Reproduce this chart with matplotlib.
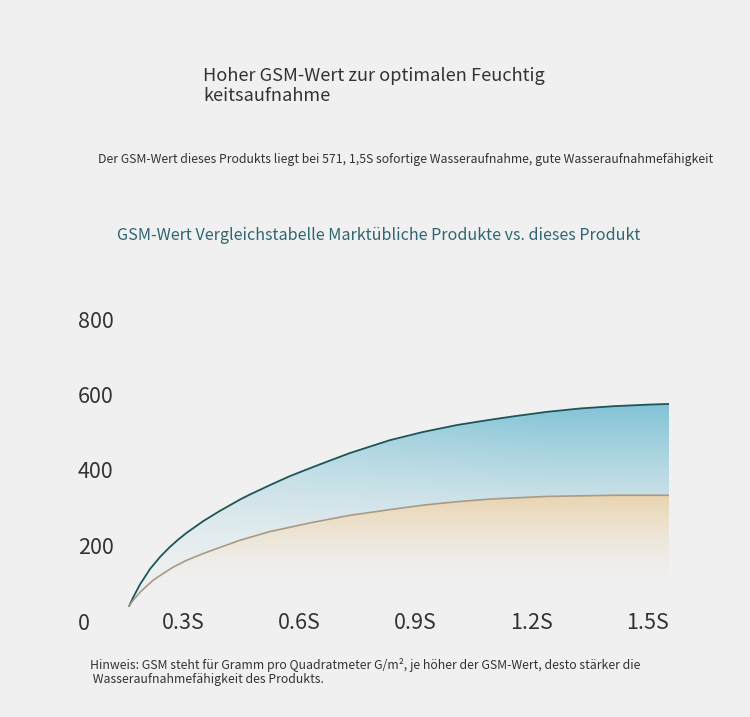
import numpy as np
import matplotlib
matplotlib.use("Agg")
import matplotlib.pyplot as plt
from matplotlib.colors import to_rgb

# values
x_top = [0.104, 0.115, 0.132, 0.158, 0.184, 0.209, 0.231, 0.253, 0.296, 0.339, 0.391,
         0.416, 0.468, 0.52, 0.572, 0.623, 0.675, 0.778, 0.865, 0.951, 1.037, 1.097,
         1.184, 1.27, 1.356, 1.442, 1.5]
y_top = [40, 64, 97, 138, 170, 196, 216, 234, 265, 292, 322,
         335, 360, 384, 405, 425, 445, 479, 501, 519, 533, 542,
         554, 563, 569, 573, 575]
x_low = [0.104, 0.115, 0.132, 0.14, 0.166, 0.192, 0.218, 0.253, 0.296, 0.339, 0.391,
         0.468, 0.572, 0.675, 0.778, 0.865, 0.951, 1.037, 1.184, 1.356, 1.5]
y_low = [40, 56, 76, 84, 108, 126, 143, 161, 179, 195, 214,
         237, 260, 280, 295, 307, 316, 323, 330, 333, 333]
x_ticks = [0.3, 0.6, 0.9, 1.2, 1.5]
x_labels = ["0.3S", "0.6S", "0.9S", "1.2S", "1.5S"]
y_ticks = [0, 200, 400, 600, 800]

BG = "#f0f0f0"
plt.rcParams["font.family"] = ["Noto Sans CJK SC", "DejaVu Sans"]

fig = plt.figure(figsize=(7.5, 7.17), dpi=100, facecolor=BG)
W, H = 750, 717

fig.text(203 / W, 1 - 86 / H, "Hoher GSM-Wert zur optimalen Feuchtig\nkeitsaufnahme",
         fontsize=13.1, color="#333333", va="center", ha="left", linespacing=1.13)
fig.text(98 / W, 1 - 159 / H,
         "Der GSM-Wert dieses Produkts liegt bei 571, 1,5S sofortige Wasseraufnahme, gute Wasseraufnahmefähigkeit",
         fontsize=8.83, color="#333333", va="center", ha="left")
fig.text(117 / W, 1 - 236 / H,
         "GSM-Wert Vergleichstabelle Marktübliche Produkte vs. dieses Produkt",
         fontsize=11.6, color="#2e6672", va="center", ha="left")
fig.text(90 / W, 1 - 672 / H,
         "Hinweis: GSM steht für Gramm pro Quadratmeter G/m², je höher der GSM-Wert, desto stärker die\n Wasseraufnahmefähigkeit des Produkts.",
         fontsize=8.85, color="#333333", va="center", ha="left", linespacing=1.18)

ax = fig.add_axes([89 / W, (H - 621) / H, 580 / W, 302 / H])
ax.set_facecolor(BG)
ax.set_xlim(0, 1.5)
ax.set_ylim(0, 800)
for s in ax.spines.values():
    s.set_visible(False)

xt = np.array(x_top)
yt = np.array(y_top)
xl = np.array(x_low)
yl = np.array(y_low)
# bottom curve on the top curve's x grid, for the band between the two
yl_on_top = np.interp(xt, xl, yl)

# gradient images clipped to the filled areas
ny, nx = 300, 200
gy = np.linspace(0, 800, ny)[:, None]
gx = np.linspace(0, 1.5, nx)[None, :]

blue = np.array(to_rgb("#82c3d6"))
pale = np.array(to_rgb("#ebeff0"))
t = np.clip((gy - 150) / (575 - 150), 0, 1) ** 1.3 * np.clip(0.6 + gx / 1.5 * 0.5, 0, 1)
img = pale[None, None, :] * (1 - t[..., None]) + blue[None, None, :] * t[..., None]
band = ax.fill_between(xt, yl_on_top, yt, color="none", lw=0)
im = ax.imshow(img, extent=[0, 1.5, 0, 800], origin="lower", aspect="auto", zorder=1)
im.set_clip_path(band.get_paths()[0], transform=ax.transData)

beige = np.array(to_rgb("#ead4b0"))
bg = np.array(to_rgb(BG))
t2 = np.clip((gy - 100) / (333 - 100), 0, 1) ** 1.5 * np.ones_like(gx)
img2 = bg[None, None, :] * (1 - t2[..., None]) + beige[None, None, :] * t2[..., None]
under = ax.fill_between(xl, 0, yl, color="none", lw=0)
im2 = ax.imshow(img2, extent=[0, 1.5, 0, 800], origin="lower", aspect="auto", zorder=1)
im2.set_clip_path(under.get_paths()[0], transform=ax.transData)

ax.plot(xt, yt, color="#1d5658", lw=1.3, zorder=3, solid_joinstyle="round")
ax.plot(xl, yl, color="#a99a86", lw=1.2, zorder=3, solid_joinstyle="round")

ax.set_xticks(x_ticks, x_labels)
ax.set_yticks(y_ticks, [str(v) for v in y_ticks])
ax.tick_params(axis="x", length=0, pad=1.5, labelsize=15.5, labelcolor="#333333")
ax.tick_params(axis="y", length=0, pad=8, labelsize=15.5, labelcolor="#333333")
plt.setp(ax.get_xticklabels(), ha="right", va="center")
plt.setp(ax.get_yticklabels(), ha="left")

fig.savefig("out.png", dpi=100, facecolor=BG)
